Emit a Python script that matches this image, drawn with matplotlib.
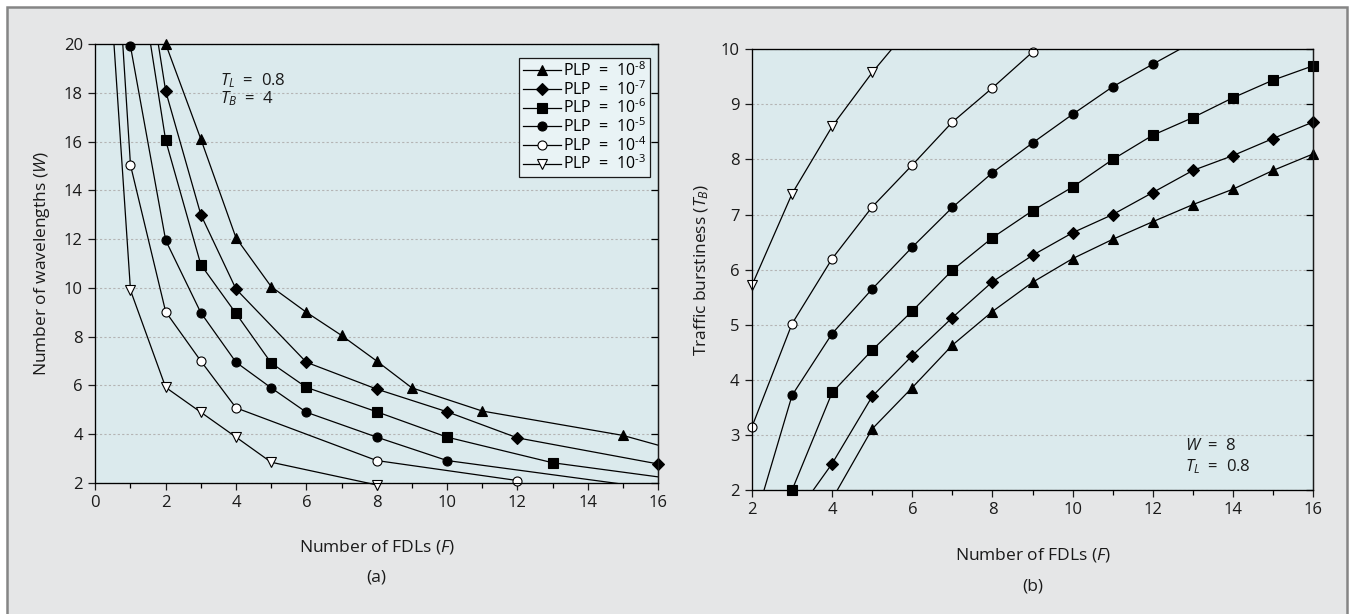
import matplotlib.pyplot as plt
from matplotlib.patches import Rectangle
from matplotlib.ticker import MultipleLocator

plt.rcParams['font.family'] = ['Open Sans', 'DejaVu Sans']
plt.rcParams['mathtext.fontset'] = 'custom'
plt.rcParams['mathtext.rm'] = 'Open Sans'
plt.rcParams['mathtext.it'] = 'Open Sans:italic'

# Legend labels (same order in both panels)
plp_labels = ['PLP  =  10$^{\\text{-8}}$', 'PLP  =  10$^{\\text{-7}}$', 'PLP  =  10$^{\\text{-6}}$',
              'PLP  =  10$^{\\text{-5}}$', 'PLP  =  10$^{\\text{-4}}$', 'PLP  =  10$^{\\text{-3}}$']

# --------------------------------
# (a) wavelengths W vs FDLs F
# --------------------------------
a_f_8 = [2, 3, 4, 5, 6, 7, 8, 9, 11, 15]
a_w_8 = [20, 16.1, 12.05, 10.05, 9.0, 8.05, 7.0, 5.9, 4.95, 3.95]
a_f_7 = [2, 3, 4, 6, 8, 10, 12, 16]
a_w_7 = [18.07, 13.0, 9.95, 6.95, 5.85, 4.92, 3.85, 2.78]
a_f_6 = [2, 3, 4, 5, 6, 8, 10, 13]
a_w_6 = [16.05, 10.95, 8.95, 6.92, 5.92, 4.92, 3.88, 2.83]
a_f_5 = [1, 2, 3, 4, 5, 6, 8, 10]
a_w_5 = [19.9, 11.95, 8.98, 6.95, 5.9, 4.9, 3.88, 2.92]
a_f_4 = [1, 2, 3, 4, 8, 12]
a_w_4 = [15.03, 9.02, 7.0, 5.08, 2.92, 2.1]
a_f_3 = [1, 2, 3, 4, 5, 8]
a_w_3 = [9.9, 5.92, 4.9, 3.88, 2.85, 1.92]

# curve parts running off the plot (no markers there)
a_ext_f = [[0.53, 1], [0.78, 1], [1.57, 2], [1.79, 2], [15, 16], [13, 16], [10, 15]]
a_ext_w = [[20, 9.9], [20, 15.03], [20, 16.05], [20, 18.07], [3.95, 3.55], [2.83, 2.25], [2.92, 1.95]]

# --------------------------------
# (b) burstiness T_B vs FDLs F
# --------------------------------
b_f_8 = [5, 6, 7, 8, 9, 10, 11, 12, 13, 14, 15, 16]
b_t_8 = [3.11, 3.86, 4.63, 5.24, 5.77, 6.2, 6.55, 6.87, 7.18, 7.46, 7.8, 8.1]
b_f_7 = [4, 5, 6, 7, 8, 9, 10, 11, 12, 13, 14, 15, 16]
b_t_7 = [2.48, 3.7, 4.44, 5.13, 5.78, 6.26, 6.67, 7.0, 7.4, 7.8, 8.07, 8.38, 8.68]
b_f_6 = [3, 4, 5, 6, 7, 8, 9, 10, 11, 12, 13, 14, 15, 16]
b_t_6 = [2.0, 3.77, 4.54, 5.25, 5.99, 6.58, 7.07, 7.5, 8.0, 8.44, 8.76, 9.12, 9.44, 9.7]
b_f_5 = [3, 4, 5, 6, 7, 8, 9, 10, 11, 12]
b_t_5 = [3.72, 4.84, 5.65, 6.41, 7.13, 7.76, 8.3, 8.82, 9.32, 9.73]
b_f_4 = [2, 3, 4, 5, 6, 7, 8, 9]
b_t_4 = [3.15, 5.02, 6.2, 7.14, 7.9, 8.68, 9.3, 9.95]
b_f_3 = [2, 3, 4, 5]
b_t_3 = [5.72, 7.38, 8.6, 9.58]

b_ext_f = [[4.13, 5], [3.53, 4], [2.3, 3], [12, 13], [5, 6]]
b_ext_t = [[2.0, 3.11], [2.0, 2.48], [2.0, 3.72], [9.73, 10.13], [9.58, 10.45]]

# marker style per PLP value
markers = ['^', 'D', 's', 'o', 'o', 'v']
msizes = [7.5, 6.5, 6.5, 6.5, 6.5, 7.5]
mfaces = ['black', 'black', 'black', 'black', 'white', 'white']

ax_bg = '#dbeaed'
frame_bg = '#e5e6e7'
txt = '#1a1a1a'

fig = plt.figure(figsize=(13.56, 6.14), dpi=100)
fig.patch.set_facecolor('white')

# grey panel behind both plots
fig.patches.append(Rectangle((7 / 1356, -0.05), 1340 / 1356, 1.0386,
                             transform=fig.transFigure, facecolor=frame_bg,
                             edgecolor='#858585', linewidth=1.8, zorder=-1))

ax1 = fig.add_axes([0.0703, 0.2134, 0.415, 0.715])
ax2 = fig.add_axes([0.5546, 0.2020, 0.4137, 0.7177])


def draw_curves(ax, xs, ys, ext_x, ext_y):
    for i in range(6):
        ax.plot(xs[i], ys[i], color='black', linewidth=0.9, marker=markers[i],
                markersize=msizes[i], markerfacecolor=mfaces[i],
                markeredgecolor='black', markeredgewidth=0.8,
                clip_on=False, zorder=4, label=plp_labels[i])
    for ex, ey in zip(ext_x, ext_y):
        ax.plot(ex, ey, color='black', linewidth=0.9, zorder=3)


def style_axes(ax, xlim, ylim, ystep):
    ax.set_facecolor(ax_bg)
    ax.set_xlim(*xlim)
    ax.set_ylim(*ylim)
    ax.xaxis.set_major_locator(MultipleLocator(2))
    ax.xaxis.set_minor_locator(MultipleLocator(1))
    ax.yaxis.set_major_locator(MultipleLocator(ystep))
    ax.tick_params(axis='both', which='major', direction='out', length=5,
                   width=0.9, labelsize=12, colors=txt, pad=4)
    ax.tick_params(axis='x', which='minor', direction='out', length=3.5, width=0.9)
    ax.tick_params(axis='y', which='minor', left=False)
    ax.grid(True, axis='y', color='#b4b4b4', linestyle=(0, (2, 2)), linewidth=0.8)
    ax.set_axisbelow(True)
    for s in ax.spines.values():
        s.set_color(txt)
        s.set_linewidth(0.9)
    # inward ticks on the right side
    tw = ax.twinx()
    tw.set_ylim(*ylim)
    tw.yaxis.set_major_locator(MultipleLocator(ystep))
    tw.tick_params(axis='y', direction='in', length=5, width=0.9, labelright=False)
    tw.spines['right'].set_color(txt)
    tw.spines['right'].set_linewidth(0.9)


# ---- panel (a) ----
style_axes(ax1, (0, 16), (2, 20), 2)
draw_curves(ax1, [a_f_8, a_f_7, a_f_6, a_f_5, a_f_4, a_f_3],
            [a_w_8, a_w_7, a_w_6, a_w_5, a_w_4, a_w_3], a_ext_f, a_ext_w)

leg = ax1.legend(loc='upper right', bbox_to_anchor=(0.9865, 0.9688),
                 borderaxespad=0, fancybox=False, framealpha=1,
                 edgecolor=txt, facecolor='#e9f3f5', fontsize=11.5,
                 handlelength=2.4, handletextpad=0.15, labelspacing=0.0,
                 borderpad=0.22)
leg.get_frame().set_linewidth(0.9)
leg.set_zorder(6)

ax1.text(3.55, 18.5, '$T_L$  =  0.8', fontsize=12, va='center', color=txt)
ax1.text(3.55, 17.75, '$T_B$  =  4', fontsize=12, va='center', color=txt)

ax1.text(0.5, -0.146, 'Number of FDLs ($F$)', transform=ax1.transAxes,
         ha='center', va='center', fontsize=12.5, color=txt)
ax1.text(0.5, -0.216, '(a)', transform=ax1.transAxes,
         ha='center', va='center', fontsize=12.5, color=txt)
ax1.text(-0.095, 0.5, 'Number of wavelengths ($W$)', transform=ax1.transAxes,
         ha='center', va='center', rotation=90, fontsize=12.5, color=txt)

# ---- panel (b) ----
style_axes(ax2, (2, 16), (2, 10), 1)
draw_curves(ax2, [b_f_8, b_f_7, b_f_6, b_f_5, b_f_4, b_f_3],
            [b_t_8, b_t_7, b_t_6, b_t_5, b_t_4, b_t_3], b_ext_f, b_ext_t)

ax2.text(12.8, 2.8, '$W$  =  8', fontsize=12, va='center', color=txt)
ax2.text(12.8, 2.42, '$T_L$  =  0.8', fontsize=12, va='center', color=txt)

ax2.text(0.5, -0.147, 'Number of FDLs ($F$)', transform=ax2.transAxes,
         ha='center', va='center', fontsize=12.5, color=txt)
ax2.text(0.5, -0.219, '(b)', transform=ax2.transAxes,
         ha='center', va='center', fontsize=12.5, color=txt)
ax2.text(-0.09, 0.5, 'Traffic burstiness ($T_B$)', transform=ax2.transAxes,
         ha='center', va='center', rotation=90, fontsize=12.5, color=txt)

plt.savefig('out.png', dpi=100)
